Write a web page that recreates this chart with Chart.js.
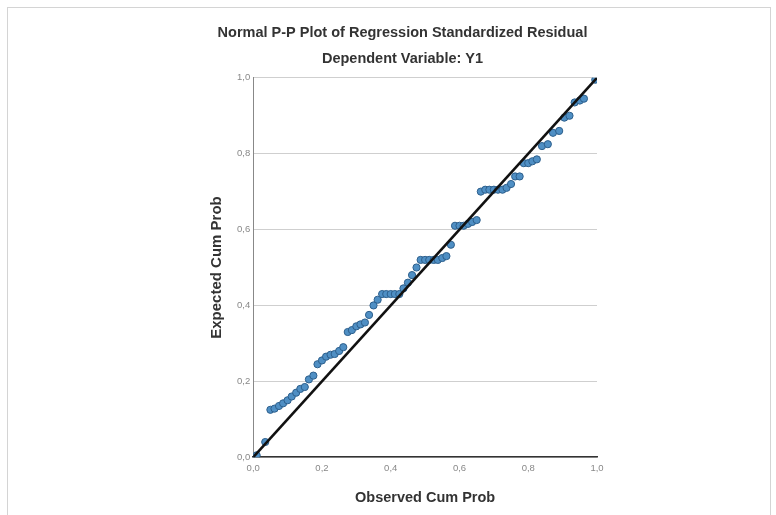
<!DOCTYPE html>
<html>
<head>
<meta charset="utf-8">
<script src="https://cdn.jsdelivr.net/npm/chart.js@4"></script>
<style>
  html, body { margin: 0; padding: 0; background: #ffffff; }
  #frame {
    position: absolute; left: 7px; top: 7px; width: 762px; height: 515px;
    border-top: 1px solid #d4d4d4; border-left: 1px solid #d4d4d4; border-right: 1px solid #d4d4d4;
  }
  #wrap { position: absolute; left: 0; top: 0; width: 776px; height: 515px; }
</style>
</head>
<body>
<div id="frame"></div>
<div id="wrap"><canvas id="ppChart" width="776" height="515"></canvas></div>
<script>
// Chart text
const chartTitle = 'Normal P-P Plot of Regression Standardized Residual';
const chartSubtitle = 'Dependent Variable: Y1';
const xAxisTitle = 'Observed Cum Prob';
const yAxisTitle = 'Expected Cum Prob';

// Observed cumulative probability (x) for each residual point
const observedProb = [
    0.010, 0.035, 0.050, 0.062, 0.075, 0.087, 0.100, 0.112, 0.125, 0.137,
    0.150, 0.162, 0.175, 0.187, 0.200, 0.212, 0.225, 0.237, 0.250, 0.262,
    0.275, 0.287, 0.300, 0.312, 0.325, 0.337, 0.350, 0.362, 0.375, 0.387,
    0.400, 0.412, 0.425, 0.437, 0.450, 0.462, 0.475, 0.487, 0.500, 0.512,
    0.525, 0.537, 0.550, 0.562, 0.575, 0.587, 0.600, 0.612, 0.625, 0.637,
    0.650, 0.662, 0.675, 0.687, 0.700, 0.712, 0.725, 0.737, 0.750, 0.762,
    0.775, 0.787, 0.800, 0.812, 0.825, 0.840, 0.857, 0.872, 0.890, 0.905,
    0.920, 0.935, 0.950, 0.962, 0.995
];

// Expected cumulative probability (y) for each residual point
const expectedProb = [
    0.005, 0.040, 0.125, 0.128, 0.135, 0.142, 0.150, 0.160, 0.170, 0.180,
    0.185, 0.205, 0.215, 0.245, 0.255, 0.265, 0.270, 0.272, 0.280, 0.290,
    0.330, 0.335, 0.345, 0.350, 0.355, 0.375, 0.400, 0.415, 0.430, 0.430,
    0.430, 0.430, 0.430, 0.445, 0.460, 0.480, 0.500, 0.520, 0.520, 0.520,
    0.520, 0.520, 0.525, 0.530, 0.560, 0.610, 0.610, 0.610, 0.615, 0.620,
    0.625, 0.700, 0.705, 0.705, 0.705, 0.705, 0.705, 0.710, 0.720, 0.740,
    0.740, 0.775, 0.775, 0.780, 0.785, 0.820, 0.825, 0.855, 0.860, 0.895,
    0.900, 0.935, 0.940, 0.945, 0.995
];

// Reference diagonal
const diagonalX = [0, 1];
const diagonalY = [0, 1];

// Axis ticks
const tickValues = [0, 0.2, 0.4, 0.6, 0.8, 1.0];

const fontFamily = '"Liberation Sans", Arial, sans-serif';

const points = observedProb.map((x, i) => ({ x: x, y: expectedProb[i] }));
const diagonal = diagonalX.map((x, i) => ({ x: x, y: diagonalY[i] }));

function fmtTick(v) {
    return v.toFixed(1).replace('.', ',');
}

const config = {
    type: 'scatter',
    data: {
        datasets: [
            {
                label: 'Residuals',
                data: points,
                pointRadius: 3.6,
                pointBackgroundColor: '#4f8fc4',
                pointBorderColor: '#2d5f8c',
                pointBorderWidth: 1,
                order: 2
            },
            {
                label: 'Diagonal',
                type: 'line',
                data: diagonal,
                borderColor: '#111111',
                borderWidth: 2.6,
                pointRadius: 0,
                fill: false,
                order: 1
            }
        ]
    },
    options: {
        responsive: false,
        animation: false,
        layout: { padding: { left: 208, right: 179, top: 0, bottom: 8 } },
        plugins: {
            legend: { display: false },
            tooltip: { enabled: false },
            title: {
                display: true,
                text: chartTitle,
                color: '#333333',
                font: { family: fontFamily, size: 14.5, weight: 'bold' },
                padding: { top: 24, bottom: 4 }
            },
            subtitle: {
                display: true,
                text: chartSubtitle,
                color: '#333333',
                font: { family: fontFamily, size: 14.5, weight: 'bold' },
                padding: { top: 5, bottom: 10 }
            }
        },
        scales: {
            x: {
                type: 'linear',
                min: 0,
                max: 1,
                afterBuildTicks: axis => { axis.ticks = tickValues.map(v => ({ value: v })); },
                ticks: {
                    color: '#888888',
                    font: { family: fontFamily, size: 9.5 },
                    padding: 5,
                    maxRotation: 0,
                    callback: v => fmtTick(v)
                },
                grid: { display: false, drawTicks: false },
                border: { color: '#333333', width: 1.5 },
                title: {
                    display: true,
                    text: xAxisTitle,
                    color: '#333333',
                    font: { family: fontFamily, size: 14.5, weight: 'bold' },
                    padding: { top: 11, bottom: 0 }
                }
            },
            y: {
                type: 'linear',
                min: 0,
                max: 1,
                afterBuildTicks: axis => { axis.ticks = tickValues.map(v => ({ value: v })); },
                ticks: {
                    color: '#888888',
                    font: { family: fontFamily, size: 9.5 },
                    padding: 3,
                    callback: v => fmtTick(v)
                },
                grid: { color: '#cfcfcf', lineWidth: 1, drawTicks: false },
                border: { color: '#888888', width: 1 },
                title: {
                    display: true,
                    text: yAxisTitle,
                    color: '#333333',
                    font: { family: fontFamily, size: 15, weight: 'bold' },
                    padding: { top: 0, bottom: 8 }
                }
            }
        }
    }
};

new Chart(document.getElementById('ppChart').getContext('2d'), config);
</script>
</body>
</html>
